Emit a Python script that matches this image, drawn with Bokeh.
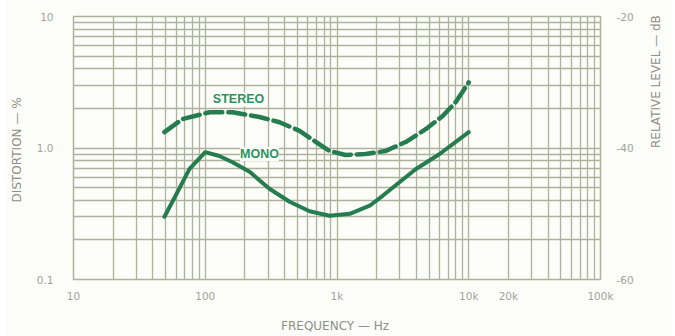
import math
from bokeh.plotting import figure
from bokeh.models import Range1d, LinearAxis, LinearScale, FixedTicker, Label, Spacer
from bokeh.layouts import row
from bokeh.embed import file_html
from bokeh.resources import INLINE

# ---- data ----
freq_stereo = [49, 67, 108, 161, 258, 366, 520, 676, 878, 1160, 1650, 2340, 3320, 4710, 6340, 7950, 10000]
dist_stereo = [1.32, 1.66, 1.87, 1.87, 1.72, 1.57, 1.35, 1.13, 0.95, 0.885, 0.90, 0.95, 1.11, 1.39, 1.75, 2.23, 3.16]

freq_mono = [49, 59.5, 76, 100, 128, 161, 217, 307, 437, 619, 878, 1250, 1770, 2220, 3950, 6010, 10000]
dist_mono = [0.30, 0.433, 0.693, 0.93, 0.87, 0.78, 0.66, 0.49, 0.39, 0.33, 0.305, 0.316, 0.364, 0.433, 0.69, 0.90, 1.32]

x_ticks = [10, 100, 1000, 10000, 20000, 100000]
x_tick_labels = ["10", "100", "1k", "10k", "20k", "100k"]
y_ticks = [0.1, 1, 10]
y_tick_labels = ["0.1", "1.0", "10"]
db_ticks = [-60, -40, -20]
db_tick_labels = ["-60", "-40", "-20"]

grid_x = [m * 10 ** e for e in range(1, 5) for m in range(1, 10)] + [100000]
grid_y = [m * 10 ** e for e in range(-1, 1) for m in range(1, 10)] + [10]

GRID = "#adb29e"
TICKTXT = "#a3a39b"
AXTXT = "#8f8f87"
GREEN = "#257d4f"
LBLGREEN = "#2b9461"
FONT = "DejaVu Sans"

p = figure(frame_width=527, frame_height=263, x_axis_type="log", y_axis_type="log",
           x_range=Range1d(10, 100000), y_range=Range1d(0.1, 10),
           output_backend="svg", toolbar_location=None,
           min_border_left=10, min_border_right=10, min_border_top=16, min_border_bottom=6)
p.background_fill_color = "#fcfcf8"
p.border_fill_color = "#fcfcf8"
p.outline_line_color = GRID
p.outline_line_width = 1.5

p.extra_y_ranges = {"db": Range1d(-60, -20)}
p.extra_y_scales = {"db": LinearScale()}

# grid
p.xgrid.ticker = FixedTicker(ticks=grid_x)
p.ygrid.ticker = FixedTicker(ticks=grid_y)
for g in (p.xgrid, p.ygrid):
    g.grid_line_color = GRID
    g.grid_line_width = 1.3
    g.grid_line_alpha = 1.0

def style_axis(ax):
    ax.axis_line_color = None
    ax.major_tick_line_color = None
    ax.minor_tick_line_color = None
    ax.major_label_text_color = TICKTXT
    ax.major_label_text_font = FONT
    ax.major_label_text_font_size = "10.5px"
    ax.axis_label_text_color = AXTXT
    ax.axis_label_text_font = FONT
    ax.axis_label_text_font_size = "12px"
    ax.axis_label_text_font_style = "normal"

# bottom axis
xa = p.xaxis[0]
xa.ticker = FixedTicker(ticks=x_ticks)
xa.major_label_overrides = {t: l for t, l in zip(x_ticks, x_tick_labels)}
xa.axis_label = "FREQUENCY \u2014  Hz"
style_axis(xa)
xa.major_label_standoff = 4
xa.axis_label_standoff = 14

# left axis
ya = p.yaxis[0]
ya.ticker = FixedTicker(ticks=y_ticks)
ya.major_label_overrides = {t: l for t, l in zip(y_ticks, y_tick_labels)}
ya.axis_label = "DISTORTION \u2014  %"
style_axis(ya)
ya.major_label_standoff = 14
ya.axis_label_standoff = 10

# right axis (relative level)
ra = LinearAxis(y_range_name="db", ticker=FixedTicker(ticks=db_ticks),
                axis_label="RELATIVE LEVEL \u2014  dB")
ra.major_label_overrides = {t: l for t, l in zip(db_ticks, db_tick_labels)}
style_axis(ra)
ra.major_label_standoff = 10
ra.axis_label_standoff = 19
ra.axis_label_orientation = math.pi / 2
p.add_layout(ra, "right")

# curves
p.line(freq_stereo, dist_stereo, line_color=GREEN, line_width=4.5,
       line_dash="17 6", line_cap="round", line_join="round")
p.line(freq_mono, dist_mono, line_color=GREEN, line_width=4,
       line_cap="round", line_join="round")

p.add_layout(Label(x=179, y=2.35, text="STEREO", text_align="center", text_baseline="middle",
                   text_color=LBLGREEN, text_font="Liberation Sans", text_font_size="12.5px",
                   text_font_style="bold", background_fill_color="#fcfcf8"))
p.add_layout(Label(x=258, y=0.90, text="MONO", text_align="center", text_baseline="middle",
                   text_color=LBLGREEN, text_font="Liberation Sans", text_font_size="12.5px",
                   text_font_style="bold", background_fill_color="#fcfcf8"))

layout = row(Spacer(width=6, height=300), p)
open("out.html", "w").write(file_html(layout, INLINE))
